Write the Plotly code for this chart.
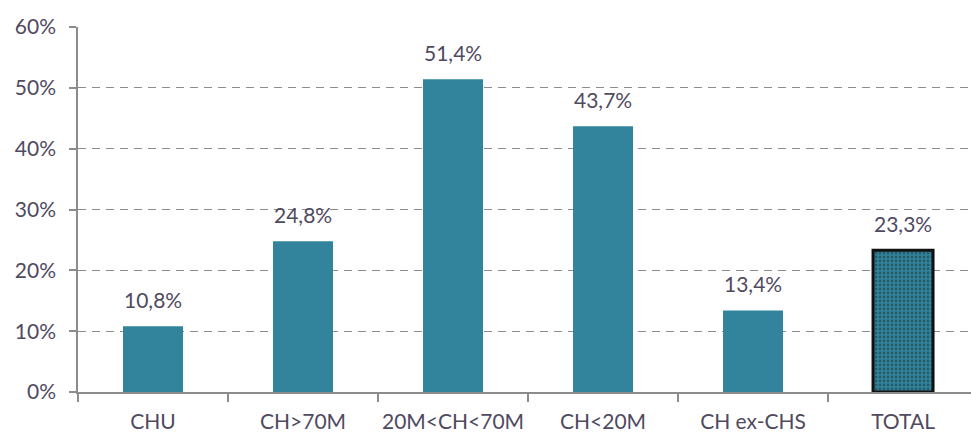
import plotly.graph_objects as go

categories = ["CHU", "CH>70M", "20M<CH<70M", "CH<20M", "CH ex-CHS", "TOTAL"]
values = [0.108, 0.248, 0.514, 0.437, 0.134, 0.233]
y_tickvals = [0, 0.1, 0.2, 0.3, 0.4, 0.5, 0.6]
y_ticktext = ["0%", "10%", "20%", "30%", "40%", "50%", "60%"]

labels = [f"{v*100:.1f}%".replace(".", ",") for v in values]

teal = "#31849B"
txt = "#504a5f"
font = "Lato"
fs = 21

fig = go.Figure()
fig.add_trace(go.Bar(
    x=categories[:-1], y=values[:-1],
    marker=dict(color=teal, line=dict(width=0)),
    width=0.4,
))
fig.add_trace(go.Bar(
    x=categories[-1:], y=values[-1:],
    marker=dict(color=teal, line=dict(width=3, color="#111111"),
                pattern=dict(shape=".", fgcolor="#1a3540", bgcolor=teal, size=4, solidity=0.4)),
    width=0.4,
))

for c, v, lab in zip(categories, values, labels):
    fig.add_annotation(x=c, y=v, text=lab, showarrow=False, yanchor="bottom",
                       yshift=12, font=dict(size=fs, color=txt, family=font))

fig.update_layout(
    width=971, height=434,
    margin=dict(l=78, r=0, t=27, b=42),
    plot_bgcolor="white", paper_bgcolor="white",
    showlegend=False, barmode="overlay",
    font=dict(family=font, size=fs, color=txt),
)
fig.update_xaxes(
    type="category", range=[-0.5, 5.453], automargin=False, tickangle=0,
    showline=True, linecolor="#8c8c8c", linewidth=1.5,
    ticks="outside", tickson="boundaries", ticklen=8, tickcolor="#8c8c8c", tickwidth=1.5,
    tickfont=dict(size=fs, color=txt, family=font), ticklabelstandoff=10,
    showgrid=False,
)
fig.update_yaxes(
    range=[0, 0.6], tickvals=y_tickvals, ticktext=y_ticktext, automargin=False,
    showline=True, linecolor="#8c8c8c", linewidth=1.5,
    ticks="outside", ticklen=7, tickcolor="#8c8c8c", tickwidth=1.5,
    tickfont=dict(size=fs, color=txt, family=font), ticklabelstandoff=9,
    showgrid=True, gridcolor="#8c8c8c", gridwidth=1.2, griddash="8px,6px",
    zeroline=False,
)

fig.write_html("out.html", config={"displayModeBar": False},
               post_script="document.body.style.margin='0px';document.body.style.overflow='hidden';")
